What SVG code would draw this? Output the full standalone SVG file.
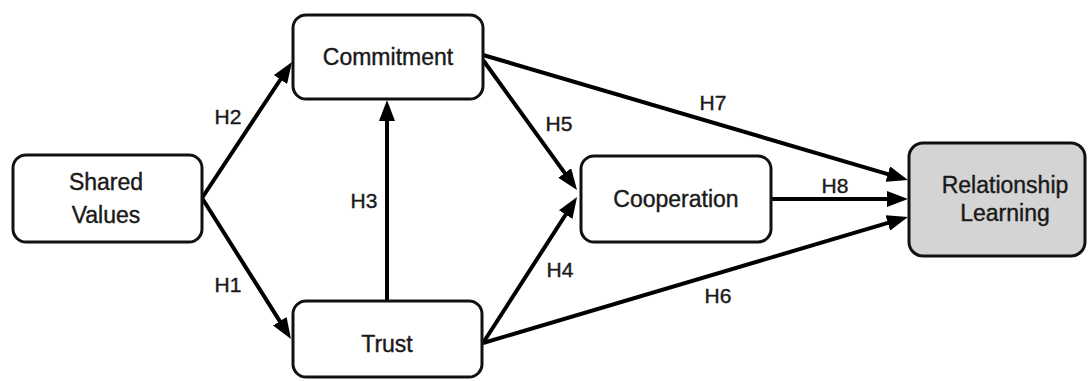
<svg xmlns="http://www.w3.org/2000/svg" width="1088" height="381" viewBox="0 0 1088 381">
  <style>
    .box { fill: #ffffff; stroke: #111111; stroke-width: 3; }
    .grey { fill: #d4d4d4; }
    .nt { font-family: "Liberation Sans", Arial, sans-serif; font-size: 23px; fill: #1a1a1a; stroke: #1a1a1a; stroke-width: 0.4; text-anchor: middle; }
    .lb { font-family: "Liberation Sans", Arial, sans-serif; font-size: 21px; fill: #1a1a1a; stroke: #1a1a1a; stroke-width: 0.4; text-anchor: middle; }
    .ln { stroke: #000000; stroke-width: 4; fill: none; marker-end: url(#ah); }
  </style>
  <defs>
    <marker id="ah" markerUnits="userSpaceOnUse" markerWidth="21" markerHeight="16" refX="15" refY="8" orient="auto">
      <path d="M0,0 L21,8 L0,16 z" fill="#000000"/>
    </marker>
  </defs>
  <rect width="1088" height="381" fill="#ffffff"/>
  <g id="connectors">
    <line class="ln" x1="202" y1="198" x2="288.7" y2="67.0"/>
    <line class="ln" x1="202" y1="198" x2="287.8" y2="333.9"/>
    <line class="ln" x1="387" y1="301" x2="387" y2="106"/>
    <line class="ln" x1="483" y1="60" x2="573.5" y2="185.1"/>
    <line class="ln" x1="483" y1="343" x2="573.8" y2="202.0"/>
    <line class="ln" x1="483" y1="55" x2="902.2" y2="178.3"/>
    <line class="ln" x1="771" y1="199" x2="902" y2="199"/>
    <line class="ln" x1="483" y1="343" x2="902.2" y2="218.7"/>
    <text class="lb" x="228" y="124">H2</text>
    <text class="lb" x="228" y="292">H1</text>
    <text class="lb" x="364" y="208">H3</text>
    <text class="lb" x="559" y="131">H5</text>
    <text class="lb" x="560" y="277">H4</text>
    <text class="lb" x="713" y="110">H7</text>
    <text class="lb" x="835" y="193">H8</text>
    <text class="lb" x="718" y="303">H6</text>
  </g>
  <g id="shared-values">
    <rect class="box" x="13" y="155" width="189" height="87" rx="13"/>
    <text class="nt" x="106" y="190">Shared</text>
    <text class="nt" x="106" y="223">Values</text>
  </g>
  <g id="commitment">
    <rect class="box" x="293" y="15" width="190" height="84" rx="13"/>
    <text class="nt" x="388" y="65">Commitment</text>
  </g>
  <g id="trust">
    <rect class="box" x="293" y="301" width="189" height="76" rx="13"/>
    <text class="nt" x="387" y="352">Trust</text>
  </g>
  <g id="cooperation">
    <rect class="box" x="581" y="156" width="190" height="86" rx="13"/>
    <text class="nt" x="676" y="207">Cooperation</text>
  </g>
  <g id="relationship-learning">
    <rect class="box grey" x="909" y="143" width="176" height="113" rx="14"/>
    <text class="nt" x="1005" y="193">Relationship</text>
    <text class="nt" x="1005" y="221">Learning</text>
  </g>
</svg>
